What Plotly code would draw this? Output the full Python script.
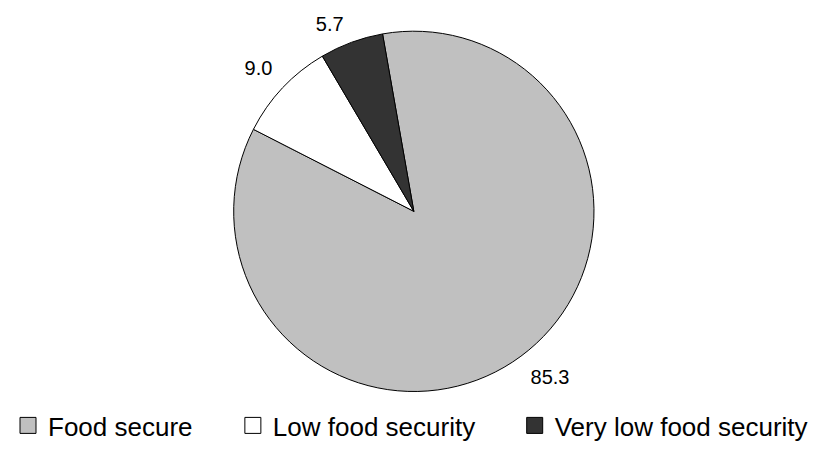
import plotly.graph_objects as go

# ---- data ----
categories = ["Food secure", "Low food security", "Very low food security"]
values = [85.3, 9.0, 5.7]

# ---- styles ----
colors = ["#C0C0C0", "#FFFFFF", "#333333"]
label_pad = ["before", "after", "after"]     # spacer line placement for outside labels
label_line_size = [15.9, 15.7, 8.8]           # base font size -> spacer line height
FONT = "Liberation Sans, Arial, sans-serif"

# page offset of the plot div inside the html body (default body margin)
OFF = 8
W, H = 817 - OFF, 449 - OFF
cx, cy, R = 409.3 - OFF, 212.3 - OFF, 186.5


def label_template(pad):
    num = "<span style='font-size:20px'>%{value:.1f}</span>"
    if pad == "before":
        return "\u00a0<br>" + num
    return num + "<br>\u00a0"


fig = go.Figure()
fig.add_trace(go.Pie(
    labels=categories,
    values=values,
    sort=False,
    direction="clockwise",
    rotation=-10,
    marker=dict(colors=colors, line=dict(color="#000000", width=1)),
    texttemplate=[label_template(p) for p in label_pad],
    textposition="outside",
    outsidetextfont=dict(family=FONT, size=label_line_size, color="#000000"),
    hoverinfo="label+value",
    showlegend=False,
    domain=dict(x=[(cx - R) / W, (cx + R) / W], y=[1 - (cy + R) / H, 1 - (cy - R) / H]),
))

# legend entries (square swatches), each in its own legend box
legend_names = ["legend", "legend2", "legend3"]
legend_text_x = [39.7, 267.3, 552.3]   # page x where each legend text begins
for cat, col, lg in zip(categories, colors, legend_names):
    fig.add_trace(go.Scatter(
        x=[None], y=[None], mode="markers", name=cat, legend=lg,
        marker=dict(symbol="square", size=16, color=col, line=dict(color="#000000", width=1)),
        hoverinfo="skip",
    ))

legend_common = dict(
    orientation="h", yanchor="middle", xanchor="left",
    font=dict(family=FONT, size=26, color="#000000"),
    bgcolor="rgba(0,0,0,0)", borderwidth=0,
)
legend_y = 1 - (434.3 - OFF) / H
layout_legends = {}
for lg, tx in zip(legend_names, legend_text_x):
    layout_legends[lg] = dict(legend_common, x=(tx - OFF - 41) / W, y=legend_y)

fig.update_layout(
    width=W, height=H,
    margin=dict(l=0, r=0, t=0, b=0),
    paper_bgcolor="#FFFFFF",
    plot_bgcolor="#FFFFFF",
    font=dict(family=FONT, color="#000000"),
    showlegend=True,
    xaxis=dict(visible=False),
    yaxis=dict(visible=False),
    **layout_legends,
)

fig.write_html("out.html")
